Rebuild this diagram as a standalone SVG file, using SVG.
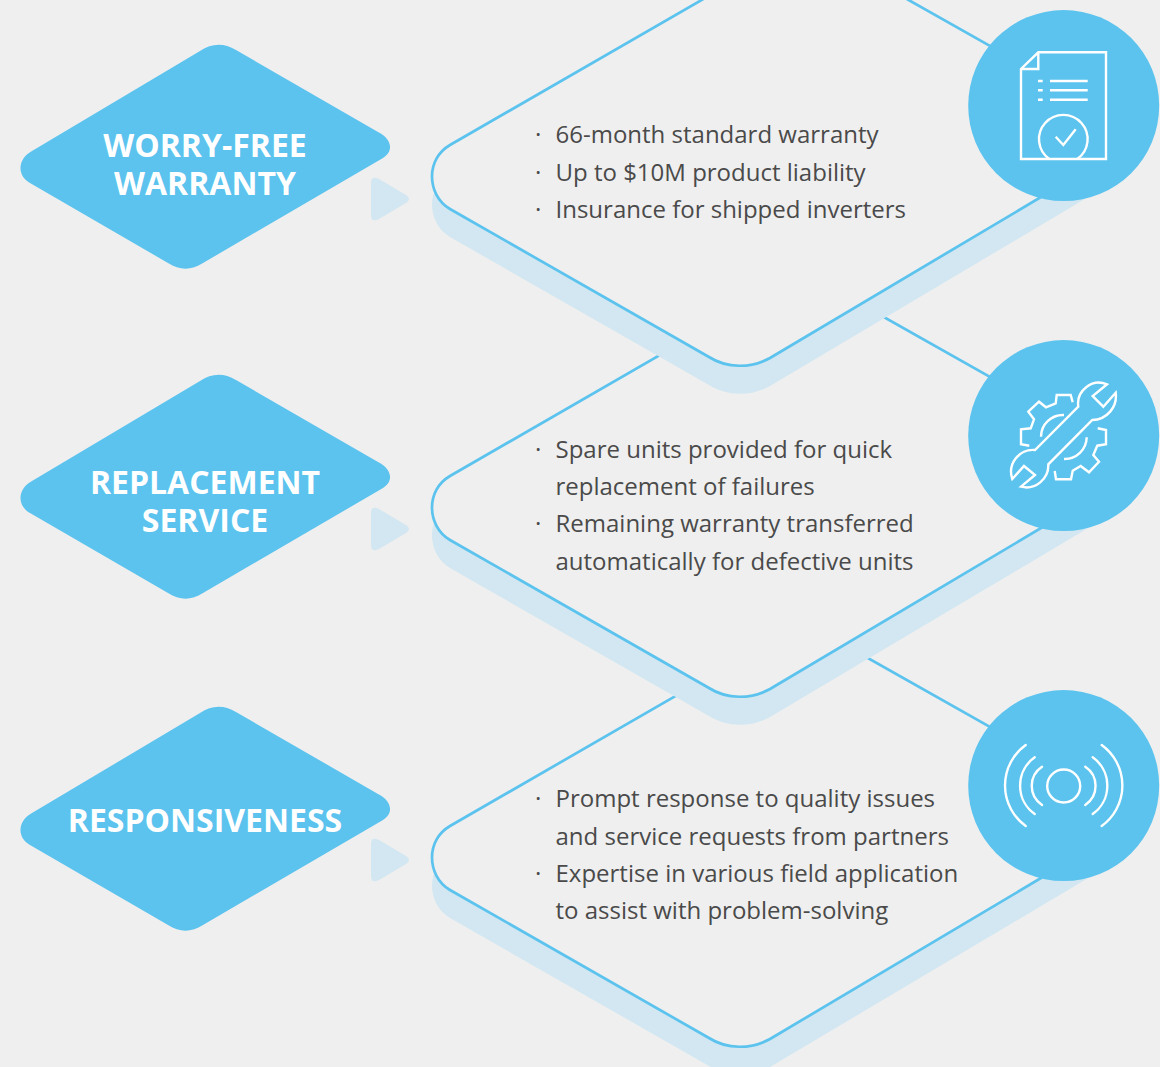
<svg xmlns="http://www.w3.org/2000/svg" width="1160" height="1067" viewBox="0 0 1160 1067">
<style>
.bg{fill:#efefef}
.d{fill:#5bc3ee}
.tri,.sh{fill:#d2e7f1}
.panel{fill:#efefef;stroke:#5bc3ee;stroke-width:2.7}
.h{font:700 32px "Open Sans","Noto Sans",sans-serif;fill:#fff;text-anchor:middle}
.t{font:400 24px "Open Sans","Noto Sans",sans-serif;fill:#4a4a4a}
.ic{fill:none;stroke:#fff;stroke-width:2.4}
.ic2{fill:none;stroke:#fff;stroke-width:2.4;stroke-linecap:round}
</style>
<defs>
<path id="big" d="M804,-59 L1100,108 L1100,162 L770,358 C751,368.500 727,368.500 709,357 L450,209 C438,202 432,189 432,176.500 C432,164 438,152 450,145 Z"/>
<path id="small" d="M200,51 C212,43 224,43 236,50 L378,132 C392,139 394,151 383,158 L203,263 C191,270.500 180,270.500 168,263 L30,183 C17,176 17,159 32,151 Z"/>
<path id="triangle" d="M371,183 Q371,175 379,179 L406,195 Q412,199 406,203 L379,219 Q371,223 371,215 Z"/>
</defs>
<rect class="bg" width="1160" height="1067"/>
<g id="connectors">
<use href="#big" class="sh" y="709"/><use href="#big" class="panel" y="681"/>
<use href="#big" class="sh" y="359"/><use href="#big" class="panel" y="331"/>
<use href="#big" class="sh" y="28"/><use href="#big" class="panel"/>
<use href="#triangle" class="tri"/><use href="#triangle" class="tri" y="330"/><use href="#triangle" class="tri" y="661"/>
</g>
<g id="node-warranty">
<use href="#small" class="d"/>
<text class="h" x="205" y="157">WORRY-FREE</text><text class="h" x="205" y="194.500">WARRANTY</text>
</g>
<g id="node-replacement">
<use href="#small" class="d" y="330"/>
<text class="h" x="205" y="494">REPLACEMENT</text><text class="h" x="205" y="531.500">SERVICE</text>
</g>
<g id="node-responsiveness">
<use href="#small" class="d" y="662"/>
<text class="h" x="205" y="832">RESPONSIVENESS</text>
</g>
<g id="text-warranty">
<text class="t" x="535" y="143">·</text><text class="t" x="555.500" y="143">66-month standard warranty</text>
<text class="t" x="535" y="181">·</text><text class="t" x="555.500" y="181">Up to $10M product liability</text>
<text class="t" x="535" y="218">·</text><text class="t" x="555.500" y="218">Insurance for shipped inverters</text>
</g>
<g id="text-replacement">
<text class="t" x="535" y="458">·</text><text class="t" x="555.500" y="458">Spare units provided for quick</text>
<text class="t" x="555.500" y="495">replacement of failures</text>
<text class="t" x="535" y="532">·</text><text class="t" x="555.500" y="532">Remaining warranty transferred</text>
<text class="t" x="555.500" y="570">automatically for defective units</text>
</g>
<g id="text-responsiveness">
<text class="t" x="535" y="807">·</text><text class="t" x="555.500" y="807">Prompt response to quality issues</text>
<text class="t" x="555.500" y="845">and service requests from partners</text>
<text class="t" x="535" y="882">·</text><text class="t" x="555.500" y="882">Expertise in various field application</text>
<text class="t" x="555.500" y="919">to assist with problem-solving</text>
</g>
<g id="icon-document">
<circle class="d" cx="1063.700" cy="105.600" r="95.500"/>
<path class="ic" d="M1038.300,52.300 H1106 V159 H1021 V69 Z M1038.300,52.300 V69 H1021"/>
<path class="ic" d="M1038,81 H1042.700 M1050,81 H1087.700 M1038,90.300 H1042.700 M1050,90.300 H1087.700 M1038,99.700 H1042.700 M1050,99.700 H1087.700"/>
<path class="ic" d="M1049.300,159 A24.300,24.300 0 1 1 1077.300,159"/>
<path class="ic" d="M1055.700,136.700 L1063.300,145 L1075.700,129.300"/>
</g>
<g id="icon-tools">
<circle class="d" cx="1063.700" cy="435.600" r="95.500"/>
<path class="ic" d="M1107,384.300 A21,21 0 0 0 1078.300,406.700 L1035,450 A22,22 0 0 0 1012.300,479 L1024,466 L1035,475 L1021,486.700 A22,22 0 0 0 1048.300,464.300 L1092.300,420 A24,24 0 0 0 1115.700,392.700 L1103.300,406.700 L1092.700,396 Z"/>
<path class="ic" d="M1072.700,402.300 L1070.700,395 H1056.700 L1055.700,403.300 L1046,407.300 L1039,401.700 L1028.300,411.700 L1034,419.300 L1030.700,428.300 L1021,429.300 V444.300 L1029.300,445.700"/>
<path class="ic" d="M1097.700,428.300 L1106,430 V444.300 L1097.300,445.700 L1093.300,455 L1099,461.700 L1089,472.300 L1080.700,466 L1072.700,470.700 L1071,479.300 H1056 L1054.700,471"/>
<path class="ic" d="M1041,436.700 A22,22 0 0 1 1064,415 M1086.700,437.300 A22,22 0 0 1 1064,459"/>
</g>
<g id="icon-signal">
<circle class="d" cx="1063.700" cy="785.600" r="95.500"/>
<circle class="ic" cx="1063.700" cy="786" r="16.500"/>
<path class="ic2" d="M1042,766.700 A23,23 0 0 0 1042,805 M1085.300,766.700 A23,23 0 0 1 1085.300,805 M1034.700,757.300 A34.800,34.800 0 0 0 1034.700,814 M1092.700,757.300 A34.800,34.800 0 0 1 1092.700,814 M1025.700,745 A50,50 0 0 0 1025.700,826 M1101.700,745 A50,50 0 0 1 1101.700,826"/>
</g>
</svg>
